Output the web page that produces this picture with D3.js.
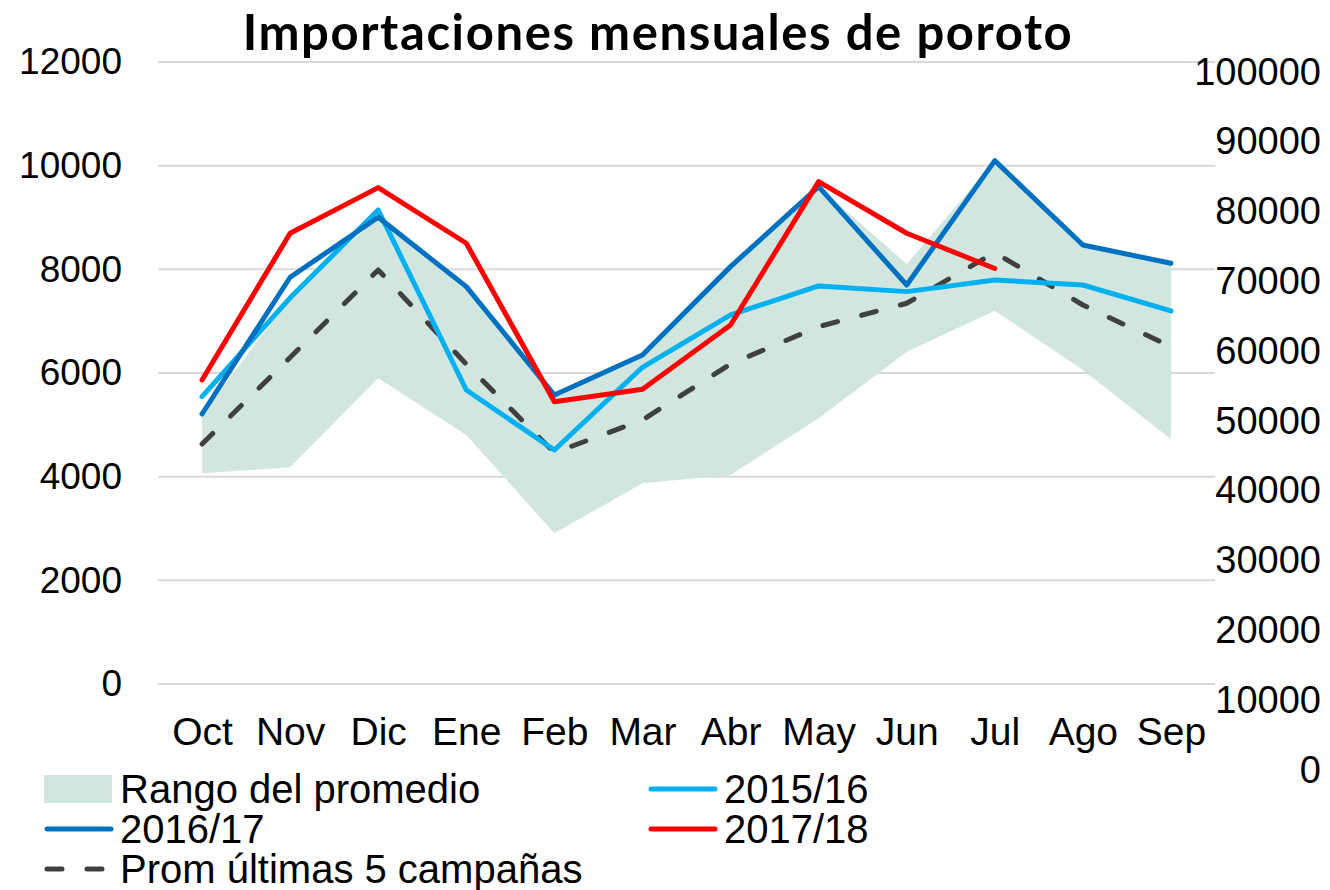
<!DOCTYPE html>
<html>
<head>
<meta charset="utf-8">
<script src="https://cdnjs.cloudflare.com/ajax/libs/d3/7.8.5/d3.min.js"></script>
<style>
	body { margin: 0; background: #fff; }
	text { font-family: "Liberation Sans", Arial, sans-serif; fill: #000; }
	.title { font-family: Lato, "Open Sans", sans-serif; font-weight: bold; }
</style>
</head>
<body>
<div id="chart"></div>
<script>

var months = ["Oct", "Nov", "Dic", "Ene", "Feb", "Mar", "Abr", "May", "Jun", "Jul", "Ago", "Sep"];

var rango_min = [4065, 4180, 5897, 4804, 2907, 3872, 4032, 5126, 6411, 7203, 6058, 4721];
var rango_max = [5200, 7450, 9020, 7666, 5560, 6348, 8052, 9595, 8103, 10097, 8470, 8117];

var camp_1516 = [5544, 7450, 9145, 5672, 4515, 6110, 7120, 7679, 7570, 7795, 7698, 7197];
var camp_1617 = [5209, 7847, 9004, 7666, 5576, 6348, 8052, 9595, 7698, 10097, 8470, 8117];
var camp_1718 = [5865, 8696, 9576, 8503, 5447, 5686, 6927, 9692, 8696, 8017];
var prom_5 = [4630, 6300, 7988, 6170, 4463, 5094, 6174, 6894, 7345, 8324, 7312, 6508];

var left_ticks = [0, 2000, 4000, 6000, 8000, 10000, 12000];
var right_ticks = [0, 10000, 20000, 30000, 40000, 50000, 60000, 70000, 80000, 90000, 100000];

let svg_width = 1330,
	svg_height = 890;

var svg = d3.select("#chart").append("svg")
	.attr("width", svg_width)
	.attr("height", svg_height);

// scales
var xScale = d3.scalePoint().domain(months).range([158, 1215]).padding(0.5);
var yScale = d3.scaleLinear().domain([0, 12000]).range([684, 62]);
var y2Scale = d3.scaleLinear().domain([0, 100000]).range([770, 72]);

// title
svg.append("text")
	.attr("class", "title")
	.attr("x", 658)
	.attr("y", 50)
	.attr("text-anchor", "middle")
	.style("font-size", "49px")
	.style("letter-spacing", "1.6px")
	.text("Importaciones mensuales de poroto");

// gridlines
svg.append("g")
	.selectAll("line")
	.data(left_ticks)
	.enter()
	.append("line")
	.attr("x1", 158)
	.attr("x2", 1215)
	.attr("y1", function(d) { return yScale(d); })
	.attr("y2", function(d) { return yScale(d); })
	.style("stroke", "#d9d9d9")
	.style("stroke-width", 2);

// left axis
var yAxis = d3.axisLeft(yScale).tickValues(left_ticks).tickSize(0).tickPadding(0).tickFormat(d3.format("d"));
svg.append("g")
	.attr("transform", "translate(122,0)")
	.call(yAxis)
	.call(function(g) { g.select(".domain").remove(); })
	.selectAll("text")
	.style("font-size", "37px")
	.style("font-family", "'Liberation Sans', Arial, sans-serif")
	.attr("fill", "#000");

// right axis
var y2Axis = d3.axisRight(y2Scale).tickValues(right_ticks).tickSize(0).tickPadding(0).tickFormat(d3.format("d"));
svg.append("g")
	.attr("transform", "translate(1321,0)")
	.call(y2Axis)
	.call(function(g) { g.select(".domain").remove(); })
	.selectAll("text")
	.attr("text-anchor", "end")
	.style("font-size", "38px")
	.style("font-family", "'Liberation Sans', Arial, sans-serif")
	.attr("fill", "#000");

// x axis
var xAxis = d3.axisBottom(xScale).tickSize(0).tickPadding(0);
svg.append("g")
	.attr("transform", "translate(0,717)")
	.call(xAxis)
	.call(function(g) { g.select(".domain").remove(); })
	.selectAll("text")
	.attr("dy", "0.71em")
	.style("font-size", "39px")
	.style("font-family", "'Liberation Sans', Arial, sans-serif")
	.attr("fill", "#000");

// band (rango del promedio)
var area = d3.area()
	.x(function(d, i) { return xScale(months[i]); })
	.y0(function(d, i) { return yScale(rango_min[i]); })
	.y1(function(d) { return yScale(d); });

svg.append("path")
	.datum(rango_max)
	.attr("d", area)
	.style("fill", "#d2e6e0");

var line = d3.line()
	.x(function(d, i) { return xScale(months[i]); })
	.y(function(d) { return yScale(d); });

var series = [
	{ name: "2015/16", values: camp_1516, color: "#00b0f0", dash: null },
	{ name: "2016/17", values: camp_1617, color: "#0070c0", dash: null },
	{ name: "2017/18", values: camp_1718, color: "#ff0000", dash: null },
	{ name: "Prom últimas 5 campañas", values: prom_5, color: "#404040", dash: "15,25" }
];

// draw lines, dashed average first so solid lines sit above it
var draw_order = [3, 0, 1, 2];
draw_order.forEach(function(k) {
	var s = series[k];
	svg.append("path")
		.datum(s.values)
		.attr("d", line)
		.style("fill", "none")
		.style("stroke", s.color)
		.style("stroke-width", 5)
		.style("stroke-linejoin", "round")
		.style("stroke-linecap", "round")
		.style("stroke-dasharray", s.dash);
});

//
// Legend
//
var legend_items = [
	{ label: "Rango del promedio", type: "rect", color: "#d2e6e0", x: 44, y: 789 },
	{ label: "2015/16", type: "line", color: "#00b0f0", x: 648, y: 789 },
	{ label: "2016/17", type: "line", color: "#0070c0", x: 44, y: 829 },
	{ label: "2017/18", type: "line", color: "#ff0000", x: 648, y: 829 },
	{ label: "Prom últimas 5 campañas", type: "dash", color: "#404040", x: 44, y: 869 }
];

var legend = svg.selectAll(".legend")
	.data(legend_items)
	.enter()
	.append("g")
	.attr("class", "legend")
	.attr("transform", function(d) { return "translate(" + d.x + "," + d.y + ")"; });

legend.filter(function(d) { return d.type == "rect"; })
	.append("rect")
	.attr("x", 0)
	.attr("y", -14)
	.attr("width", 68)
	.attr("height", 28)
	.style("fill", function(d) { return d.color; });

legend.filter(function(d) { return d.type != "rect"; })
	.append("line")
	.attr("x1", 3)
	.attr("x2", 67)
	.attr("y1", 0)
	.attr("y2", 0)
	.style("stroke", function(d) { return d.color; })
	.style("stroke-width", 5)
	.style("stroke-linecap", "round")
	.style("stroke-dasharray", function(d) { return d.type == "dash" ? "15,25" : null; });

legend.append("text")
	.attr("x", 76)
	.attr("y", 0)
	.attr("dy", "0.35em")
	.style("font-size", "40px")
	.text(function(d) { return d.label; });

</script>
</body>
</html>
